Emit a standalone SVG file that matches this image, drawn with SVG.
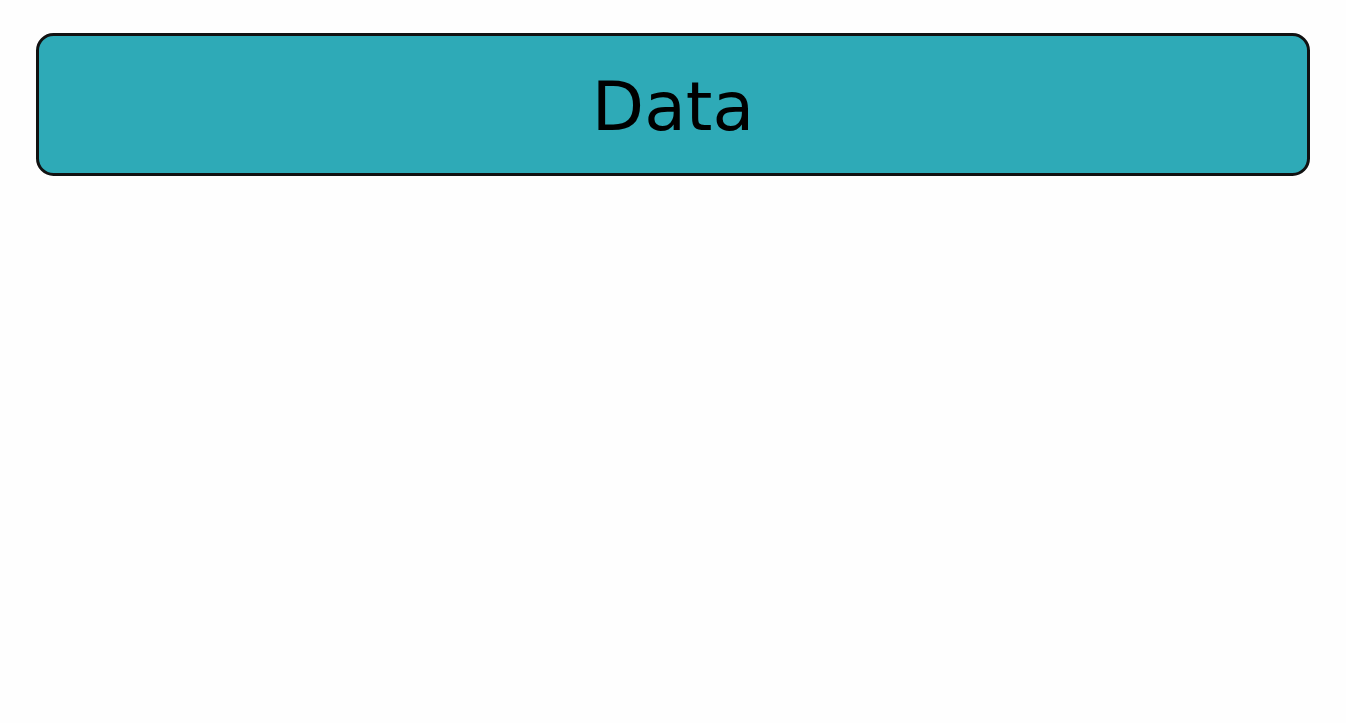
<svg xmlns="http://www.w3.org/2000/svg" width="1346" height="723" viewBox="0 0 1346 723">
<style>
.node rect{fill:#2eaab7;stroke:#111;stroke-width:3}
.node text{font-family:"DejaVu Sans",sans-serif;font-size:68px;fill:#000;text-anchor:middle}
</style>
<rect width="1346" height="723" fill="#fefefe"/>
<g id="connectors"></g>
<g id="data" class="node">
<rect x="37.5" y="34.5" width="1271" height="140" rx="16" ry="16"/>
<text x="673" y="130">Data</text>
</g>
</svg>
